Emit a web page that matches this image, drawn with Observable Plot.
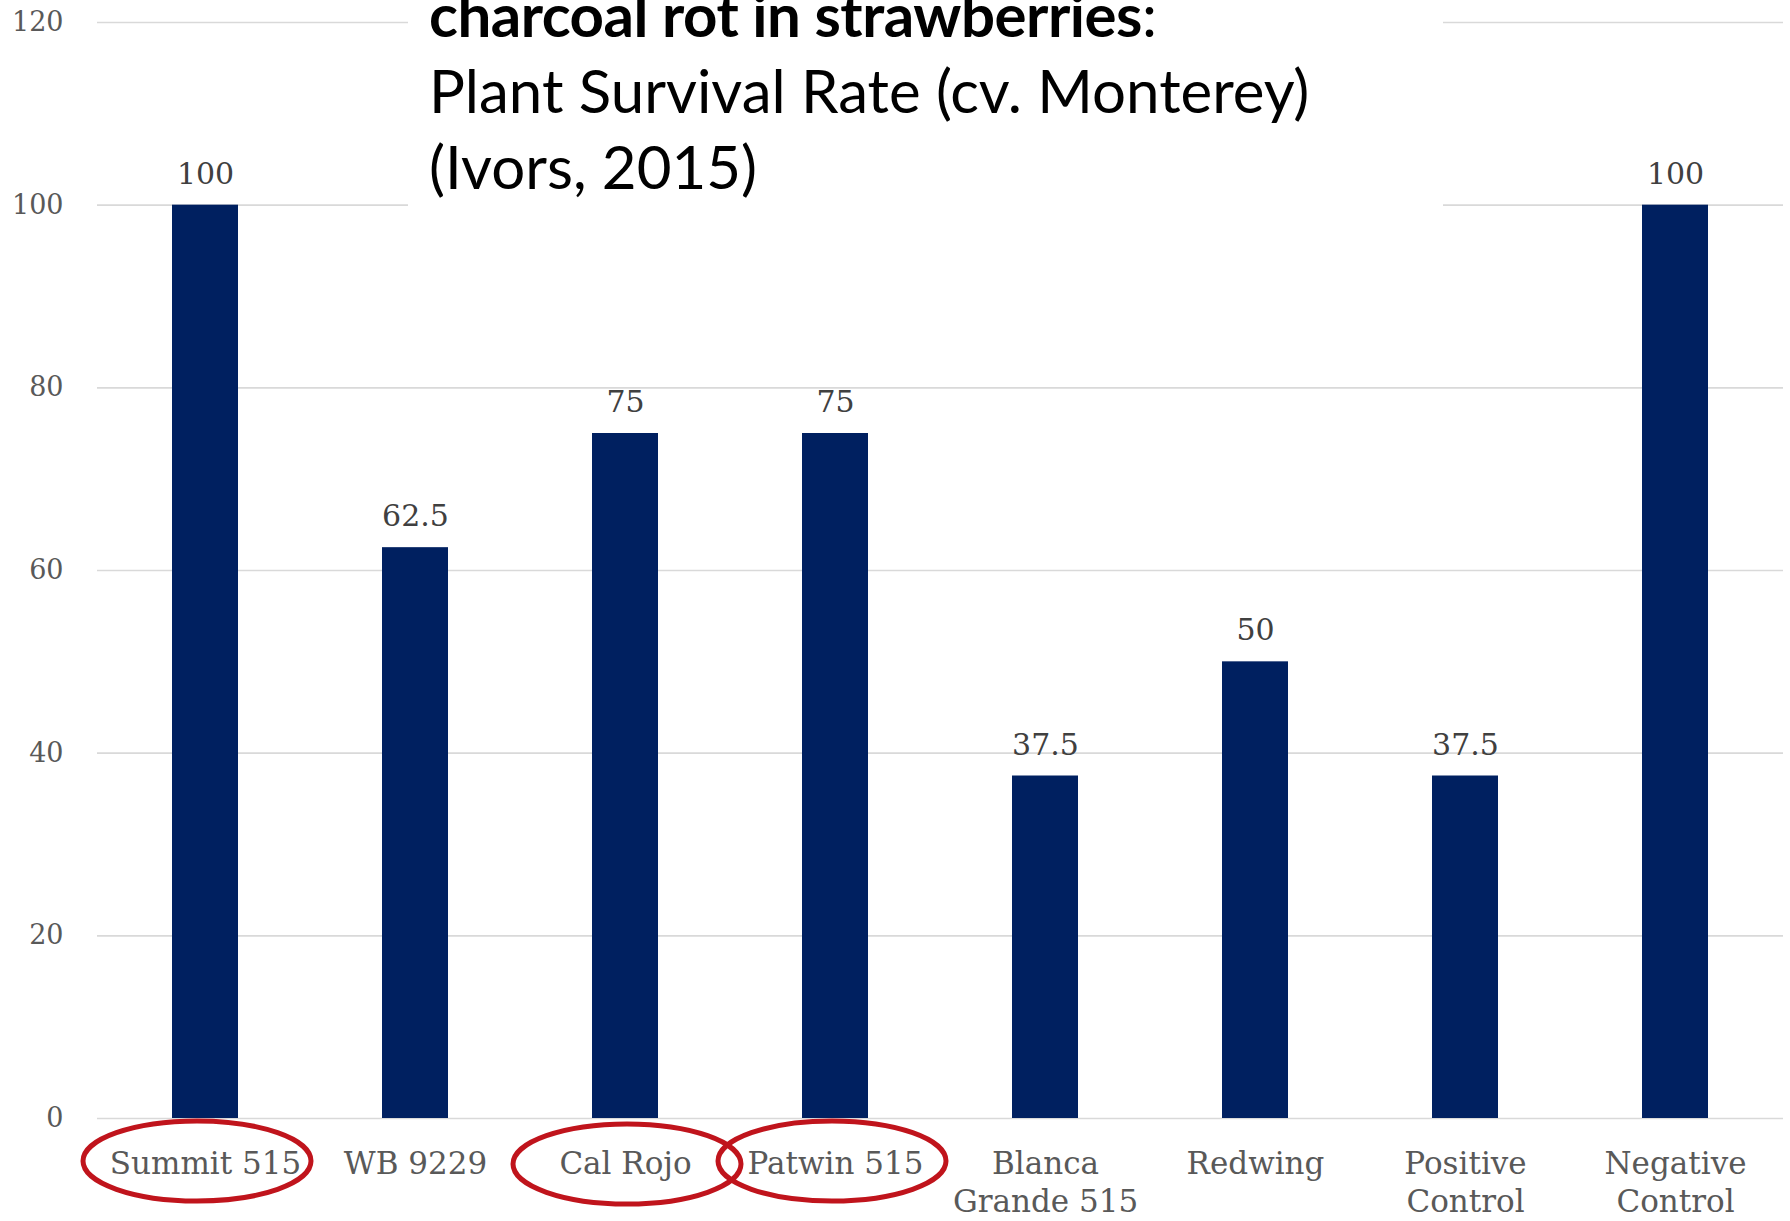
<!DOCTYPE html>
<html><head><meta charset="utf-8">
<script src="https://cdn.jsdelivr.net/npm/d3@7"></script>
<script src="https://cdn.jsdelivr.net/npm/@observablehq/plot@0.6"></script>
<style>
html,body{margin:0;padding:0;background:#fff;}
#wrap{position:relative;width:1790px;height:1221px;overflow:hidden;}
#title{position:absolute;left:408px;top:0;width:1035px;height:215px;background:#fff;overflow:hidden;}
#title .lines{position:absolute;left:21px;top:-24px;font-family:Lato,"Open Sans",sans-serif;font-size:60px;line-height:76px;color:#000;white-space:nowrap;}
#title b{letter-spacing:-0.5px;}
</style></head><body>
<div id="wrap"><div id="chart"></div>
<div id="title"><div class="lines"><div><b>charcoal rot in strawberries</b>:</div><div>Plant Survival Rate (cv. Monterey)</div><div>(Ivors, 2015)</div></div></div>
</div>
<script>
const categories = ["Summit 515","WB 9229","Cal Rojo","Patwin 515","Blanca Grande 515","Redwing","Positive Control","Negative Control"];
const tickLabels = ["Summit 515","WB 9229","Cal Rojo","Patwin 515","Blanca\nGrande 515","Redwing","Positive\nControl","Negative\nControl"];
const survival = [100,62.5,75,75,37.5,50,37.5,100];
const highlighted = ["Summit 515","Cal Rojo","Patwin 515"];
const yTicks = [0,20,40,60,80,100,120];

const data = categories.map((c,i)=>({category:c, value:survival[i]}));
const labelOf = new Map(categories.map((c,i)=>[c,tickLabels[i]]));

const plot = Plot.plot({
  width:1790, height:1221,
  marginTop:22, marginBottom:103, marginLeft:97, marginRight:7,
  style:{fontFamily:"'DejaVu Serif', serif", background:"#fff", overflow:"visible"},
  x:{domain:categories, paddingInner:0.687, paddingOuter:0.3435, axis:null},
  y:{domain:[0,120], axis:null},
  marks:[
    Plot.gridY({ticks:yTicks, stroke:"#d9d9d9", strokeOpacity:1, strokeWidth:1.6}),
    Plot.axisY({ticks:yTicks, tickSize:0, tickPadding:34, fontSize:27, color:"#595959", label:null}),
    Plot.barY(data, {x:"category", y:"value", fill:"#002060"}),
    Plot.text(data, {x:"category", y:"value", text:d=>String(d.value), dy:-31, fontSize:30, fill:"#404040"}),
    Plot.axisX({tickSize:0, tickPadding:28, fontSize:31, lineHeight:1.24, color:"#595959", label:null, tickFormat:c=>labelOf.get(c)})
  ]
});

const xs = plot.scale("x"), ys = plot.scale("y");
const y0 = ys.apply(0);
const shift = {"Summit 515":-8, "Cal Rojo":2, "Patwin 515":-3};
const drop = {"Summit 515":43, "Cal Rojo":46, "Patwin 515":43};
d3.select(plot).append("g")
  .attr("fill","none").attr("stroke","#c0141c").attr("stroke-width",5)
  .selectAll("ellipse").data(highlighted).join("ellipse")
  .attr("cx", c => xs.apply(c) + xs.bandwidth/2 + shift[c])
  .attr("cy", c => y0 + drop[c])
  .attr("rx", 114).attr("ry", 40);

document.getElementById("chart").appendChild(plot);
</script>
</body></html>
